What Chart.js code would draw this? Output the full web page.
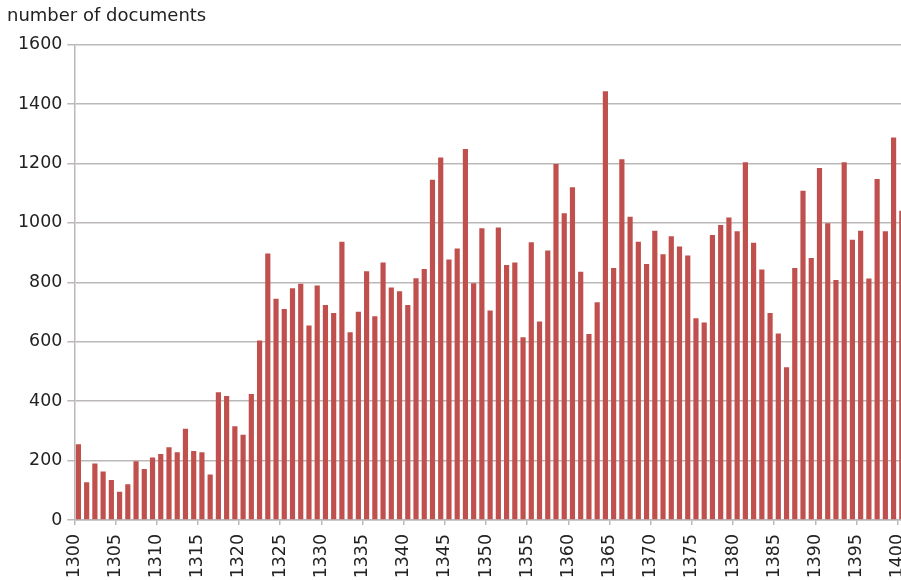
<!DOCTYPE html>
<html>
<head>
<meta charset="utf-8">
<script src="https://cdn.jsdelivr.net/npm/chart.js@4/dist/chart.umd.min.js"></script>
<style>
  html, body { margin: 0; padding: 0; background: #ffffff; overflow: hidden; }
  #wrap { width: 901px; height: 580px; }
</style>
</head>
<body>
<div id="wrap"><canvas id="c" width="901" height="580"></canvas></div>
<script>
// ---- data ----
const yAxisTitle = 'number of documents';
const years = [];
for (let y = 1300; y <= 1400; y++) years.push(y);
const documentCounts = [
  255, 127, 190, 163, 135, 95, 120, 198, 172, 210,
  222, 245, 228, 307, 232, 228, 153, 430, 417, 316,
  287, 424, 604, 897, 745, 710, 780, 795, 655, 789,
  724, 697, 937, 632, 701, 837, 686, 867, 783, 770,
  724, 814, 845, 1145, 1220, 877, 914, 1249, 797, 982,
  705, 985, 858, 867, 615, 935, 668, 907, 1198, 1033,
  1120, 836, 626, 733, 1443, 848, 1214, 1021, 937, 862,
  974, 895, 955, 921, 890, 679, 665, 959, 993, 1018,
  972, 1204, 933, 843, 697, 628, 514, 848, 1108, 882,
  1185, 999, 808, 1204, 943, 974, 813, 1148, 972, 1288,
  1041
];
const yTicks = [0, 200, 400, 600, 800, 1000, 1200, 1400, 1600];
const xTickStep = 5;

// ---- styles ----
const FONT = 'DejaVu Sans';
const TEXT = '#222222';
const GRID = '#bdb8b8';
const BAR = '#c0504d';

// each year's bar spans the year interval [year, year+1]
const points = years.map((y, i) => ({ x: y + 0.5, y: documentCounts[i] }));

new Chart(document.getElementById('c'), {
  type: 'bar',
  data: {
    datasets: [{
      data: points,
      backgroundColor: BAR,
      borderWidth: 0,
      barPercentage: 0.63,
      categoryPercentage: 1.0
    }]
  },
  options: {
    responsive: false,
    animation: false,
    layout: { padding: { left: 7, right: 0, top: 0, bottom: 0 } },
    plugins: {
      legend: { display: false },
      tooltip: { enabled: false },
      title: {
        display: true,
        text: yAxisTitle,
        align: 'start',
        color: TEXT,
        font: { family: FONT, size: 18, weight: 'normal' },
        padding: { top: 6, bottom: 17.1 }
      }
    },
    scales: {
      x: {
        type: 'linear',
        min: years[0],
        max: years[years.length - 1] + 0.4,
        offset: false,
        grid: {
          offset: false,
          drawOnChartArea: false,
          drawTicks: true,
          tickLength: 5,
          color: GRID,
          lineWidth: 1.5
        },
        border: { display: true, color: GRID, width: 1.5 },
        ticks: {
          stepSize: xTickStep,
          includeBounds: false,
          autoSkip: false,
          minRotation: 90,
          maxRotation: 90,
          padding: 9,
          color: TEXT,
          font: { family: FONT, size: 17.4 },
          callback: (v) => String(v)
        },
        afterFit: (scale) => { scale.height = 60; scale.paddingRight = 0; }
      },
      y: {
        min: yTicks[0],
        max: yTicks[yTicks.length - 1],
        grid: {
          color: GRID,
          lineWidth: 1.5,
          tickLength: 7
        },
        border: { display: true, color: GRID, width: 1.5 },
        ticks: {
          stepSize: yTicks[1] - yTicks[0],
          padding: 5,
          color: TEXT,
          font: { family: FONT, size: 17.4 },
          callback: (v) => String(v)
        },
        afterFit: (scale) => { scale.width = 67.3; }
      }
    }
  }
});
</script>
</body>
</html>
